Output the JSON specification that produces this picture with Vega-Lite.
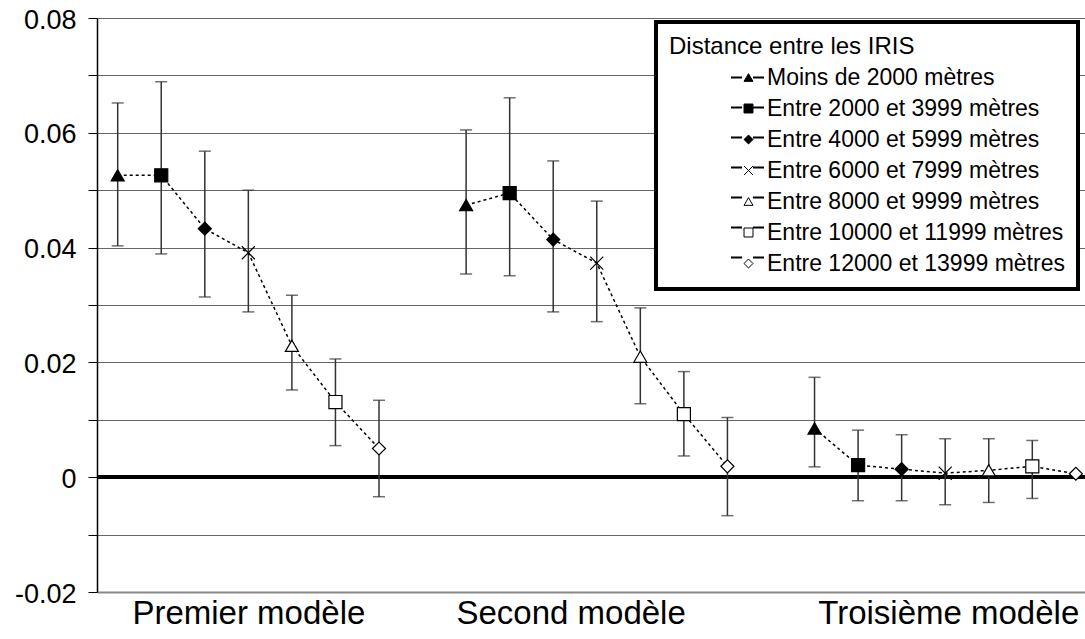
{
  "$schema": "https://vega.github.io/schema/vega-lite/v6.json",
  "autosize": {"type": "none"},
  "padding": {"left": 97, "top": 18, "right": 0, "bottom": 47},
  "width": 988,
  "height": 574,
  "background": "white",
  "config": {
    "font": "Liberation Sans",
    "view": {"stroke": null},
    "legend": {"strokeWidth": 4, "labelLimit": 0, "titleLimit": 0},
    "axis": {"labelLimit": 0}
  },
  "data": {
    "values": [
      {"model": "Premier modèle", "idx": 0, "rank": 1, "series": "Moins de 2000 mètres", "v": 0.0526, "lo": 0.0403, "hi": 0.0652},
      {"model": "Premier modèle", "idx": 1, "rank": 2, "series": "Entre 2000 et 3999 mètres", "v": 0.0526, "lo": 0.0389, "hi": 0.0689},
      {"model": "Premier modèle", "idx": 2, "rank": 3, "series": "Entre 4000 et 5999 mètres", "v": 0.0433, "lo": 0.0314, "hi": 0.0568},
      {"model": "Premier modèle", "idx": 3, "rank": 4, "series": "Entre 6000 et 7999 mètres", "v": 0.0391, "lo": 0.0288, "hi": 0.0500},
      {"model": "Premier modèle", "idx": 4, "rank": 5, "series": "Entre 8000 et 9999 mètres", "v": 0.0229, "lo": 0.0152, "hi": 0.0317},
      {"model": "Premier modèle", "idx": 5, "rank": 6, "series": "Entre 10000 et 11999 mètres", "v": 0.0131, "lo": 0.0055, "hi": 0.0206},
      {"model": "Premier modèle", "idx": 6, "rank": 7, "series": "Entre 12000 et 13999 mètres", "v": 0.0050, "lo": -0.0034, "hi": 0.0134},
      {"model": "Second modèle", "idx": 8, "rank": 1, "series": "Moins de 2000 mètres", "v": 0.0474, "lo": 0.0354, "hi": 0.0605},
      {"model": "Second modèle", "idx": 9, "rank": 2, "series": "Entre 2000 et 3999 mètres", "v": 0.0495, "lo": 0.0351, "hi": 0.0661},
      {"model": "Second modèle", "idx": 10, "rank": 3, "series": "Entre 4000 et 5999 mètres", "v": 0.0414, "lo": 0.0288, "hi": 0.0551},
      {"model": "Second modèle", "idx": 11, "rank": 4, "series": "Entre 6000 et 7999 mètres", "v": 0.0373, "lo": 0.0271, "hi": 0.0481},
      {"model": "Second modèle", "idx": 12, "rank": 5, "series": "Entre 8000 et 9999 mètres", "v": 0.0210, "lo": 0.0128, "hi": 0.0295},
      {"model": "Second modèle", "idx": 13, "rank": 6, "series": "Entre 10000 et 11999 mètres", "v": 0.0110, "lo": 0.0037, "hi": 0.0184},
      {"model": "Second modèle", "idx": 14, "rank": 7, "series": "Entre 12000 et 13999 mètres", "v": 0.0019, "lo": -0.0067, "hi": 0.0104},
      {"model": "Troisième modèle", "idx": 16, "rank": 1, "series": "Moins de 2000 mètres", "v": 0.0085, "lo": 0.0018, "hi": 0.0174},
      {"model": "Troisième modèle", "idx": 17, "rank": 2, "series": "Entre 2000 et 3999 mètres", "v": 0.0021, "lo": -0.0041, "hi": 0.0082},
      {"model": "Troisième modèle", "idx": 18, "rank": 3, "series": "Entre 4000 et 5999 mètres", "v": 0.0014, "lo": -0.0041, "hi": 0.0074},
      {"model": "Troisième modèle", "idx": 19, "rank": 4, "series": "Entre 6000 et 7999 mètres", "v": 0.0007, "lo": -0.0048, "hi": 0.0067},
      {"model": "Troisième modèle", "idx": 20, "rank": 5, "series": "Entre 8000 et 9999 mètres", "v": 0.0012, "lo": -0.0044, "hi": 0.0067},
      {"model": "Troisième modèle", "idx": 21, "rank": 6, "series": "Entre 10000 et 11999 mètres", "v": 0.0019, "lo": -0.0037, "hi": 0.0064},
      {"model": "Troisième modèle", "idx": 22, "rank": 7, "series": "Entre 12000 et 13999 mètres", "v": 0.0006, "lo": null, "hi": null}
    ]
  },
  "layer": [
    {
      "mark": {"type": "rule", "strokeWidth": 3.5, "color": "black"},
      "encoding": {
        "y": {
          "datum": 0,
          "type": "quantitative",
          "scale": {"domain": [-0.02, 0.08], "nice": false, "zero": false},
          "axis": {
            "title": null,
            "values": [-0.02, -0.01, 0, 0.01, 0.02, 0.03, 0.04, 0.05, 0.06, 0.07, 0.08],
            "labelExpr": "abs(round(datum.value*100)) % 2 == 0 ? (round(datum.value*100) == 0 ? '0' : replace(format(datum.value, '.2f'), '−', '-')) : ''",
            "labelFontSize": 27,
            "labelColor": "black",
            "labelPadding": 12,
            "labelOffset": 2,
            "labelFlush": false,
            "labelOverlap": false,
            "labelBound": false,
            "tickSize": 9,
            "tickColor": "black",
            "tickWidth": 1,
            "domainColor": "black",
            "domainWidth": 1.5,
            "grid": true,
            "gridColor": "#666666",
            "gridWidth": 1
          }
        }
      }
    },
    {
      "mark": {"type": "rule", "color": "#333333", "strokeWidth": 1.5},
      "encoding": {
        "x": {
          "field": "idx",
          "type": "quantitative",
          "scale": {"domain": [-0.475, 22.21], "nice": false, "zero": false},
          "axis": {
            "title": null,
            "values": [3, 10.4, 19.07],
            "labelExpr": "datum.value < 5 ? 'Premier modèle' : datum.value < 15 ? 'Second modèle' : 'Troisième modèle'",
            "labelFontSize": 33,
            "labelColor": "black",
            "labelPadding": 5,
            "labelFlush": false,
            "labelOverlap": false,
            "labelBound": false,
            "ticks": false,
            "grid": false,
            "domainColor": "#888888",
            "domainWidth": 2
          }
        },
        "y": {"field": "lo", "type": "quantitative"},
        "y2": {"field": "hi"}
      }
    },
    {
      "mark": {"type": "tick", "orient": "horizontal", "color": "#333333", "size": 12, "thickness": 1.5},
      "encoding": {
        "x": {"field": "idx", "type": "quantitative"},
        "y": {"field": "hi", "type": "quantitative"}
      }
    },
    {
      "mark": {"type": "tick", "orient": "horizontal", "color": "#333333", "size": 12, "thickness": 1.5},
      "encoding": {
        "x": {"field": "idx", "type": "quantitative"},
        "y": {"field": "lo", "type": "quantitative"}
      }
    },
    {
      "mark": {"type": "line", "color": "black", "strokeWidth": 1.5, "strokeDash": [3, 3]},
      "encoding": {
        "x": {"field": "idx", "type": "quantitative"},
        "y": {"field": "v", "type": "quantitative"},
        "detail": {"field": "model", "type": "nominal"}
      }
    },
    {
      "mark": {"type": "point", "filled": true, "size": 170, "strokeWidth": 1.2, "opacity": 1},
      "encoding": {
        "x": {"field": "idx", "type": "quantitative"},
        "y": {"field": "v", "type": "quantitative"},
        "shape": {
          "field": "series",
          "type": "nominal",
          "sort": null,
          "scale": {
            "domain": ["Moins de 2000 mètres", "Entre 2000 et 3999 mètres", "Entre 4000 et 5999 mètres", "Entre 6000 et 7999 mètres", "Entre 8000 et 9999 mètres", "Entre 10000 et 11999 mètres", "Entre 12000 et 13999 mètres"],
            "range": ["triangle-up", "square", "diamond", "M-1,-1L1,1M-1,1L1,-1", "triangle-up", "square", "diamond"]
          },
          "legend": {
            "title": "Distance entre les IRIS",
            "orient": "none",
            "legendX": 559,
            "legendY": 4,
            "padding": 13,
            "strokeColor": "black",
            "fillColor": "white",
            "titleFontSize": 24,
            "titleFontWeight": "normal",
            "titleColor": "black",
            "titlePadding": 7,
            "labelFontSize": 23,
            "labelColor": "black",
            "labelOffset": 7,
            "symbolOffset": 68,
            "symbolSize": 80,
            "symbolStrokeWidth": 1,
            "symbolOpacity": 1,
            "rowPadding": 7,
            "zindex": 0
          }
        },
        "fill": {
          "field": "series",
          "type": "nominal",
          "sort": null,
          "scale": {
            "domain": ["Moins de 2000 mètres", "Entre 2000 et 3999 mètres", "Entre 4000 et 5999 mètres", "Entre 6000 et 7999 mètres", "Entre 8000 et 9999 mètres", "Entre 10000 et 11999 mètres", "Entre 12000 et 13999 mètres"],
            "range": ["black", "black", "black", "black", "white", "white", "white"]
          },
          "legend": {
            "title": "Distance entre les IRIS",
            "orient": "none",
            "legendX": 559,
            "legendY": 4,
            "padding": 13,
            "strokeColor": "black",
            "fillColor": "white",
            "titleFontSize": 24,
            "titleFontWeight": "normal",
            "titleColor": "black",
            "titlePadding": 7,
            "labelFontSize": 23,
            "labelColor": "black",
            "labelOffset": 7,
            "symbolOffset": 68,
            "symbolSize": 80,
            "symbolStrokeWidth": 1,
            "symbolOpacity": 1,
            "rowPadding": 7,
            "zindex": 0
          }
        },
        "stroke": {
          "field": "series",
          "type": "nominal",
          "sort": null,
          "scale": {
            "domain": ["Moins de 2000 mètres", "Entre 2000 et 3999 mètres", "Entre 4000 et 5999 mètres", "Entre 6000 et 7999 mètres", "Entre 8000 et 9999 mètres", "Entre 10000 et 11999 mètres", "Entre 12000 et 13999 mètres"],
            "range": ["black", "black", "black", "black", "black", "black", "black"]
          },
          "legend": {
            "title": "Distance entre les IRIS",
            "orient": "none",
            "legendX": 559,
            "legendY": 4,
            "padding": 13,
            "strokeColor": "black",
            "fillColor": "white",
            "titleFontSize": 24,
            "titleFontWeight": "normal",
            "titleColor": "black",
            "titlePadding": 7,
            "labelFontSize": 23,
            "labelColor": "black",
            "labelOffset": 7,
            "symbolOffset": 68,
            "symbolSize": 80,
            "symbolStrokeWidth": 1,
            "symbolOpacity": 1,
            "rowPadding": 7,
            "zindex": 0
          }
        }
      }
    },
    {
      "mark": {"type": "rule", "strokeWidth": 2, "clip": true},
      "encoding": {
        "y": {"datum": 0.1, "type": "quantitative"},
        "color": {
          "field": "rank",
          "type": "nominal",
          "scale": {"range": ["black"]},
          "legend": {
            "title": null,
            "orient": "none",
            "legendX": 633,
            "legendY": 42,
            "padding": 0,
            "symbolType": "M-1,0L-0.33,0M0.33,0L1,0",
            "symbolSize": 1089,
            "symbolStrokeWidth": 2,
            "symbolOpacity": 1,
            "symbolOffset": 0,
            "labelExpr": "''",
            "labelFontSize": 23,
            "rowPadding": -3.3,
            "zindex": 1
          }
        }
      }
    }
  ]
}
